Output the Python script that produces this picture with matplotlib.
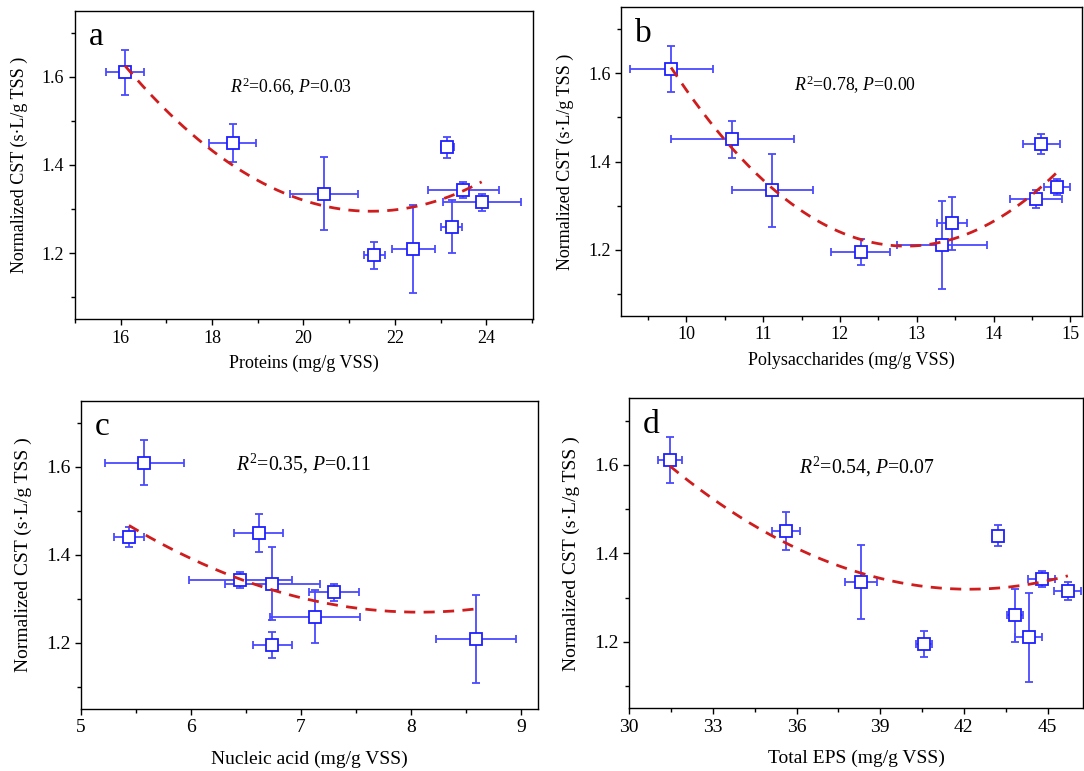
import numpy as np
import matplotlib.pyplot as plt

plt.rcParams['font.family'] = ['Liberation Serif', 'DejaVu Serif']
plt.rcParams['mathtext.fontset'] = 'custom'
plt.rcParams['mathtext.rm'] = 'Liberation Serif'
plt.rcParams['mathtext.it'] = 'Liberation Serif:italic'

# normalized CST, shared by all panels
cst = [1.61, 1.45, 1.335, 1.195, 1.44, 1.26, 1.21, 1.343, 1.315]
cst_err = [0.052, 0.043, 0.083, 0.030, 0.023, 0.060, 0.100, 0.018, 0.020]

# EPS components (mg/g VSS)
proteins = [16.10, 18.45, 20.45, 21.55, 23.15, 23.25, 22.40, 23.50, 23.90]
proteins_err = [0.42, 0.52, 0.75, 0.23, 0.15, 0.23, 0.47, 0.78, 0.85]
polysacc = [9.80, 10.60, 11.12, 12.27, 14.62, 13.46, 13.33, 14.83, 14.55]
polysacc_err = [0.54, 0.80, 0.53, 0.385, 0.24, 0.19, 0.59, 0.17, 0.34]
nucleic = [5.575, 6.615, 6.74, 6.74, 5.436, 7.13, 8.59, 6.45, 7.30]
nucleic_err = [0.36, 0.22, 0.43, 0.18, 0.135, 0.41, 0.365, 0.47, 0.23]
total_eps = [31.46, 35.63, 38.31, 40.58, 43.23, 43.83, 44.32, 44.79, 45.73]
total_eps_err = [0.44, 0.50, 0.58, 0.28, 0.15, 0.29, 0.48, 0.48, 0.48]

# quadratic fits: (curvature, vertex x, vertex y)
fit_a = (0.0114, 21.48, 1.295)
fit_b = (0.0433, 12.86, 1.208)
fit_c = (0.02826, 8.077, 1.270)
fit_d = (0.002415, 42.19, 1.319)

panels = [
    # label, x, xerr, fit, xlabel, stats text, xlim, major, minor, axes rect, text pos, font size
    ('a', proteins, proteins_err, fit_a, 'Proteins (mg/g VSS)', r'$R^2$=0.66, $P$=0.03',
     (15.27, 25.03), np.arange(16, 25, 2), np.arange(15, 26, 2),
     [0.069, 0.586, 0.423, 0.400], (0.338, 0.753), 13),
    ('b', polysacc, polysacc_err, fit_b, 'Polysaccharides (mg/g VSS)', r'$R^2$=0.78, $P$=0.00',
     (9.15, 15.15), np.arange(10, 16, 1), np.arange(9.5, 15.1, 1),
     [0.573, 0.5905, 0.425, 0.400], (0.3755, 0.748), 13),
    ('c', nucleic, nucleic_err, fit_c, 'Nucleic acid (mg/g VSS)', r'$R^2$=0.35, $P$=0.11',
     (5.0, 9.157), np.arange(5, 10, 1), np.arange(5.5, 9.2, 1),
     [0.0747, 0.0804, 0.4219, 0.3996], (0.339, 0.795), 14),
    ('d', total_eps, total_eps_err, fit_d, 'Total EPS (mg/g VSS)', r'$R^2$=0.54, $P$=0.07',
     (30.0, 46.27), np.arange(30, 46, 3), np.arange(31.5, 46.3, 3),
     [0.5805, 0.0813, 0.4185, 0.402], (0.374, 0.779), 14),
]

fig = plt.figure(figsize=(10.84, 7.71), dpi=100)

for label, x, xerr, fit, xlabel, stats, xlim, major, minor, rect, tpos, fs in panels:
    ax = fig.add_axes(rect)
    ax.errorbar(x, cst, xerr=xerr, yerr=cst_err, fmt='s', ms=8,
                mfc='white', mec='#1f1fff', mew=1.3, ecolor='#4a4aff',
                elinewidth=1.3, capsize=3, capthick=1.2, zorder=2)

    # fitted curve over the data range
    k, h, m = fit
    xs = np.linspace(min(x), max(x), 200)
    ax.plot(xs, k * (xs - h) ** 2 + m, '--', color='#d01c1c', lw=2,
            dashes=(4, 3), zorder=3)

    ax.set_xlim(*xlim)
    ax.set_ylim(1.05, 1.75)
    ax.set_xticks(major)
    ax.set_xticks(minor, minor=True)
    ax.set_yticks([1.2, 1.4, 1.6])
    ax.set_yticks([1.1, 1.3, 1.5, 1.7], minor=True)
    ax.tick_params(which='both', direction='out', top=False, right=False,
                   labelsize=fs, width=1.0)
    ax.tick_params(which='major', length=4)
    ax.tick_params(which='minor', length=3)
    for s in ax.spines.values():
        s.set_linewidth(1.0)

    ax.set_xlabel(xlabel, fontsize=fs, labelpad=6 if fs == 13 else 10)
    ax.set_ylabel('Normalized CST (s·L/g TSS )', fontsize=fs, labelpad=10)
    ax.text(tpos[0], tpos[1], stats, transform=ax.transAxes,
            fontsize=12.8 if fs == 13 else 14.2, ha='left', va='center')
    ax.text(0.03, 0.888, label, transform=ax.transAxes, fontsize=24,
            ha='left', va='baseline')

fig.savefig('out.png', dpi=100)
